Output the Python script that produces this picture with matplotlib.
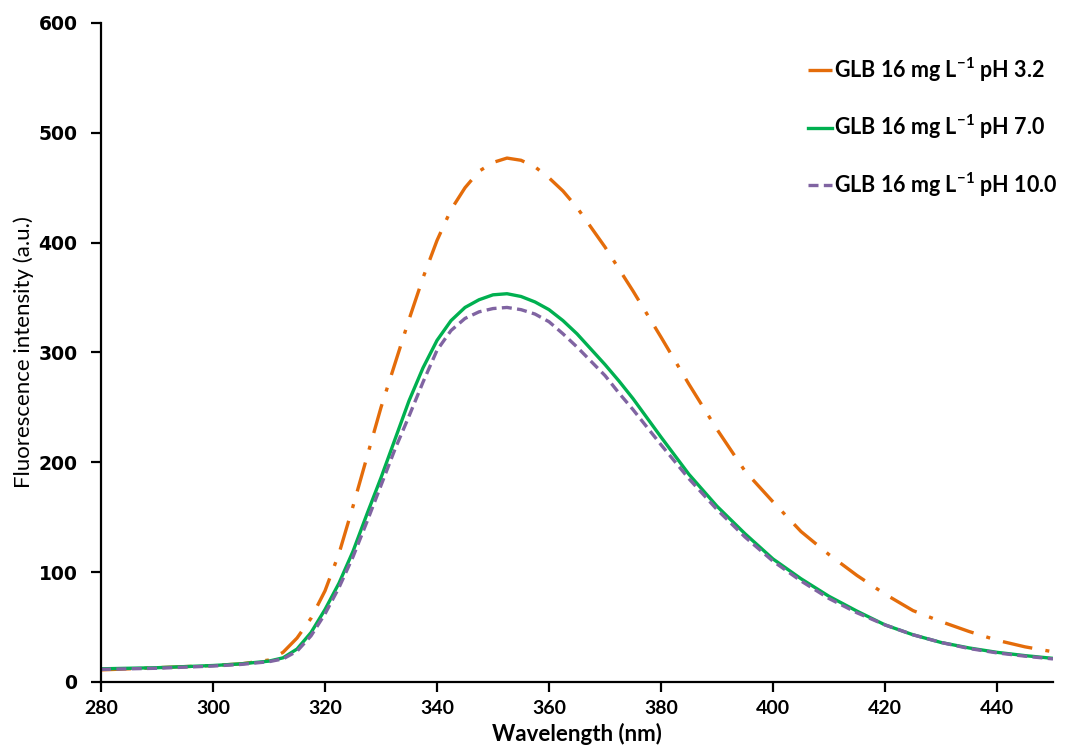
import matplotlib
matplotlib.use("Agg")
import matplotlib.pyplot as plt

wavelength = [280, 285, 290, 295, 300, 305, 310, 312.5, 315, 317.5, 320, 322.5, 325,
              327.5, 330, 332.5, 335, 337.5, 340, 342.5, 345, 347.5, 350, 352.5, 355,
              357.5, 360, 362.5, 365, 367.5, 370, 372.5, 375, 380, 385, 390, 395,
              400, 405, 410, 415, 420, 425, 430, 435, 440, 445, 450]

ph32 = [11, 12, 13, 14, 15, 16.5, 20, 27, 40, 58, 83, 117, 160,
        205, 250, 290, 330, 368, 402, 430, 450, 465, 473, 477, 475,
        469, 459, 447, 432, 414, 396, 376, 356, 314, 271, 230, 192,
        164, 137, 116, 97, 80, 65, 55, 46, 38, 32, 27.5]

ph70 = [12, 12.5, 13, 14, 15, 16.5, 19, 22, 30, 45, 66, 90, 119,
        153, 186, 221, 256, 286, 311, 329, 341, 348, 352.5, 353.5, 351,
        346, 339, 329, 317, 303, 289, 274, 258, 223, 189, 160, 135,
        112, 94, 78, 64.5, 52, 43, 36, 31, 27, 24, 21.5]

ph100 = [11.5, 12, 12.5, 13.5, 14.5, 16, 18.5, 21, 28, 42, 62, 86, 114,
         146, 179, 212, 242, 273, 302, 320, 331, 337, 340, 341, 339,
         335, 328, 317, 305, 292, 279, 263, 248, 216, 185, 157, 132,
         110, 92, 76, 63, 52, 43, 36, 30.5, 26.5, 23.5, 21]

labels = [r"GLB 16 mg L$^{\mathbf{-1}}$ pH 3.2",
          r"GLB 16 mg L$^{\mathbf{-1}}$ pH 7.0",
          r"GLB 16 mg L$^{\mathbf{-1}}$ pH 10.0"]

xticks = [280, 300, 320, 340, 360, 380, 400, 420, 440]
yticks = [0, 100, 200, 300, 400, 500, 600]

plt.rcParams['mathtext.fontset'] = 'custom'
plt.rcParams['mathtext.rm'] = 'Lato:bold'
plt.rcParams['mathtext.bf'] = 'Lato:bold'

fig = plt.figure(figsize=(10.77, 7.56), dpi=100)
ax = fig.add_axes([0.0938, 0.0979, 0.8839, 0.8717])

ax.plot(wavelength, ph32, color="#E46C0A", lw=2.4, dashes=(9, 4, 1.2, 4), label=labels[0])
ax.plot(wavelength, ph70, color="#00B050", lw=2.4, label=labels[1])
ax.plot(wavelength, ph100, color="#8064A2", lw=2.4, dashes=(3, 1.6), label=labels[2])

ax.set_xlim(280, 450)
ax.set_ylim(0, 600)
ax.set_xticks(xticks)
ax.set_yticks(yticks)
ax.set_xticklabels([str(v) for v in xticks], fontfamily="Lato", fontweight="bold", fontsize=14)
ax.set_yticklabels([str(v) for v in yticks], fontfamily="DejaVu Sans", fontweight="bold", fontsize=13.5)

for s in ["top", "right"]:
    ax.spines[s].set_visible(False)
for s in ["left", "bottom"]:
    ax.spines[s].set_linewidth(1.6)
ax.tick_params(axis="both", direction="out", length=7, width=1.6)
ax.tick_params(axis="x", pad=6)
ax.tick_params(axis="y", pad=10)

ax.set_xlabel("Wavelength (nm)", fontfamily="Lato", fontweight="bold", fontsize=16, labelpad=4)
ax.set_ylabel("Fluorescence intensity (a.u.)", fontfamily="Lato", fontsize=16, labelpad=3)

leg = ax.legend(loc="upper right", bbox_to_anchor=(1.025, 0.98), frameon=False,
                handlelength=1.1, handletextpad=0.1, labelspacing=1.35,
                prop={"family": "Lato", "weight": "bold", "size": 15.5})

fig.savefig("out.png", dpi=100)
